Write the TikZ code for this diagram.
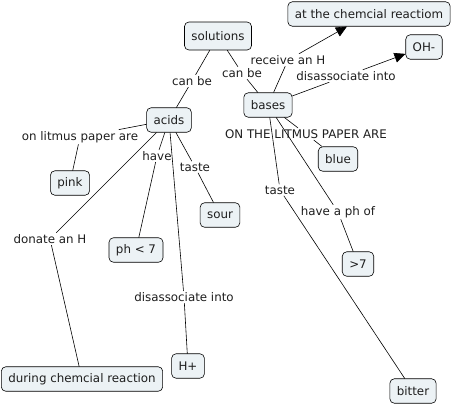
\documentclass[tikz,border=0pt]{standalone}
\usepackage{fontspec}
\setmainfont{DejaVu Sans}
\usetikzlibrary{arrows.meta}
\definecolor{conceptfill}{RGB}{236,242,245}
\definecolor{inktext}{RGB}{30,30,30}
\begin{document}
\begin{tikzpicture}[x=1bp,y=-1bp,line cap=round,line join=round,
    concept/.style={draw,line width=0.6pt,rounded corners=4.5pt,fill=conceptfill,
      inner xsep=7pt,minimum height=24.5bp,text=inktext,
      font=\fontsize{11.9}{13}\selectfont},
    phrase/.style={inner sep=1.5pt,text=inktext,font=\fontsize{11.9}{13}\selectfont},
    link/.style={line width=0.6pt},
    linkarrow/.style={link,-{Triangle[length=11bp,width=10bp]}}]
  \useasboundingbox (0,0) rectangle (463,405);
  % concepts
  \node[concept,minimum height=28bp] (solutions) at (218,36) {solutions};
  \node[concept] (chemreact) at (369,14) {at the chemcial reactiom};
  \node[concept] (oh) at (424,47) {OH-};
  \node[concept] (bases) at (268,105) {bases};
  \node[concept] (acids) at (169,120) {acids};
  \node[concept] (pink) at (70,183) {pink};
  \node[concept] (blue) at (338,159) {blue};
  \node[concept] (sour) at (220,215) {sour};
  \node[concept] (phlow) at (136,250) {ph < 7};
  \node[concept] (phhigh) at (358,264) {>7};
  \node[concept] (hplus) at (188,366) {H+};
  \node[concept] (during) at (82,379) {during chemcial reaction};
  \node[concept] (bitter) at (413,391) {bitter};
  % linking phrases
  \node[phrase] (canbeA) at (192,81) {can be};
  \node[phrase] (canbeB) at (242,73) {can be};
  \node[phrase] (receive) at (288,60) {receive an H};
  \node[phrase] (disB) at (346,76) {disassociate into};
  \node[phrase] (litmusA) at (80,137) {on litmus paper are};
  \node[phrase] (haveA) at (157,156) {have};
  \node[phrase] (tasteA) at (195,167) {taste};
  \node[phrase] (litmusB) at (306,134) {ON THE LITMUS PAPER ARE};
  \node[phrase] (tasteB) at (280,190) {taste};
  \node[phrase] (phof) at (338,212) {have a ph of};
  \node[phrase] (donate) at (50,239) {donate an H};
  \node[phrase] (disA) at (184,297) {disassociate into};
  % links
  \draw[link] (solutions) -- (canbeA) -- (acids);
  \draw[link] (solutions) -- (canbeB) -- (bases);
  \draw[link] (bases) -- (receive);
  \draw[linkarrow] (receive) -- (chemreact);
  \draw[link] (bases) -- (disB);
  \draw[linkarrow] (disB) -- (oh);
  \draw[link] (acids) -- (litmusA) -- (pink);
  \draw[link] (acids) -- (haveA) -- (phlow);
  \draw[link] (acids) -- (tasteA) -- (sour);
  \draw[link] (acids) -- (donate) -- (during);
  \draw[link] (acids) -- (disA) -- (hplus);
  \draw[link] (bases) -- (litmusB) -- (blue);
  \draw[link] (bases) -- (tasteB) -- (bitter);
  \draw[link] (bases) -- (phof) -- (phhigh);
\end{tikzpicture}
\end{document}
